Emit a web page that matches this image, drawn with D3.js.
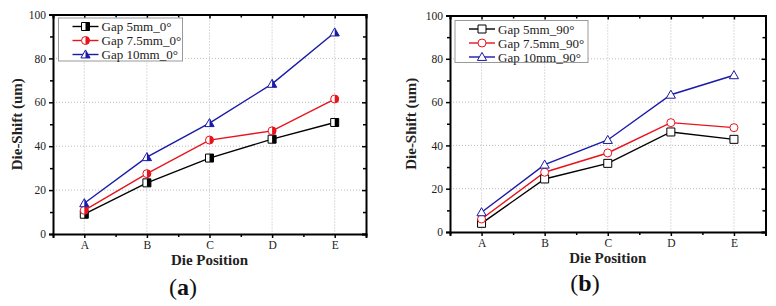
<!DOCTYPE html>
<html>
<head>
<meta charset="utf-8">
<script src="https://cdn.jsdelivr.net/npm/d3@7"></script>
<style>
  body { margin: 0; background: #fff; }
  svg { display: block; }
  svg text { font-family: "Liberation Serif", "Times New Roman", "DejaVu Serif", serif; }
</style>
</head>
<body>
<svg id="chart" width="776" height="306"></svg>
<script>
// data
const positions = ['A', 'B', 'C', 'D', 'E'];
const yTicks = [0, 20, 40, 60, 80, 100];

const gap5_0 = [9.0, 23.3, 34.6, 43.2, 50.8];
const gap75_0 = [10.8, 27.5, 42.8, 47.0, 61.5];
const gap10_0 = [14.0, 35.0, 50.5, 68.4, 91.8];

const gap5_90 = [4.0, 24.5, 31.7, 46.2, 42.8];
const gap75_90 = [6.0, 27.6, 36.5, 50.5, 48.2];
const gap10_90 = [9.1, 31.1, 42.5, 63.4, 72.4];

const names0 = ['Gap 5mm_0°', 'Gap 7.5mm_0°', 'Gap 10mm_0°'];
const names90 = ['Gap 5mm_90°', 'Gap 7.5mm_90°', 'Gap 10mm_90°'];
const colors = ['#000000', '#e8141c', '#1a1aa8'];
const shapes = ['square', 'circle', 'triangle'];

const svg = d3.select('#chart');
let clipN = 0;

// one marker; half=true gives a left-white / right-filled symbol
function marker(g, shape, x, y, color, half, s) {
  let path;
  if (shape === 'square') {
    path = `M${x - s},${y - s}H${x + s}V${y + s}H${x - s}Z`;
  } else if (shape === 'circle') {
    path = `M${x - s},${y}A${s},${s} 0 1,0 ${x + s},${y}A${s},${s} 0 1,0 ${x - s},${y}Z`;
  } else {
    const t = s * 1.15;
    path = `M${x},${y - t}L${x + t},${y + t * 0.75}L${x - t},${y + t * 0.75}Z`;
  }
  g.append('path').attr('d', path).attr('fill', '#fff');
  if (half) {
    const id = 'clip' + (clipN++);
    g.append('clipPath').attr('id', id)
      .append('rect').attr('x', x).attr('y', y - 2 * s).attr('width', 2 * s).attr('height', 4 * s);
    g.append('path').attr('d', path).attr('fill', color).attr('clip-path', `url(#${id})`);
  }
  g.append('path').attr('d', path).attr('fill', 'none').attr('stroke', color).attr('stroke-width', 1);
}

function panel(opts) {
  const { left, right, top, bottom, series, names, half, legend, yTitleX, label, labelX, labelY, xTitleY } = opts;
  const g = svg.append('g');

  const x = d3.scaleLinear().domain([-0.5, 4.5]).range([left, right]);
  const y = d3.scaleLinear().domain([0, 100]).range([bottom, top]);

  // dotted grid
  const grid = g.append('g').attr('stroke', '#bbb').attr('stroke-dasharray', '1,2').attr('stroke-width', 1);
  positions.forEach((p, i) => {
    grid.append('line').attr('x1', x(i)).attr('x2', x(i)).attr('y1', top).attr('y2', bottom);
  });
  yTicks.slice(1, -1).forEach(v => {
    grid.append('line').attr('x1', left).attr('x2', right).attr('y1', y(v)).attr('y2', y(v));
  });

  // axes: outward ticks left/bottom, inward ticks right/top
  const yMinor = d3.range(10, 100, 20);
  g.append('g').attr('transform', `translate(${left},0)`)
    .call(d3.axisLeft(y).tickValues(yTicks).tickSize(4).tickPadding(3))
    .call(a => a.selectAll('text').attr('font-size', 11.5).attr('fill', '#222'));
  g.append('g').attr('transform', `translate(${left},0)`)
    .call(d3.axisLeft(y).tickValues(yMinor).tickSize(3).tickFormat(''))
    .call(a => a.select('.domain').remove());
  g.append('g').attr('transform', `translate(${right},0)`)
    .call(d3.axisLeft(y).tickValues(yTicks).tickSize(4).tickFormat(''));
  g.append('g').attr('transform', `translate(${right},0)`)
    .call(d3.axisLeft(y).tickValues(yMinor).tickSize(3).tickFormat(''))
    .call(a => a.select('.domain').remove());

  const xMinor = [-0.5, 0.5, 1.5, 2.5, 3.5, 4.5];
  g.append('g').attr('transform', `translate(0,${bottom})`)
    .call(d3.axisBottom(x).tickValues(d3.range(5)).tickSize(4).tickPadding(3).tickFormat(i => positions[i]))
    .call(a => a.selectAll('text').attr('font-size', 11.5).attr('fill', '#222'));
  g.append('g').attr('transform', `translate(0,${bottom})`)
    .call(d3.axisBottom(x).tickValues(xMinor).tickSize(3).tickFormat(''))
    .call(a => a.select('.domain').remove());
  g.append('g').attr('transform', `translate(0,${top})`)
    .call(d3.axisBottom(x).tickValues(d3.range(5)).tickSize(4).tickFormat(''));
  g.append('g').attr('transform', `translate(0,${top})`)
    .call(d3.axisBottom(x).tickValues(xMinor).tickSize(3).tickFormat(''))
    .call(a => a.select('.domain').remove());
  g.selectAll('.domain').attr('stroke-width', 2);
  g.selectAll('.tick line').attr('stroke-width', 1.5);
  g.selectAll('.tick text').attr('font-family', null);
  g.selectAll('g').attr('font-family', null);

  // lines and markers
  const line = d3.line().x((d, i) => x(i)).y(d => y(d));
  series.forEach((vals, k) => {
    g.append('path').datum(vals).attr('d', line)
      .attr('fill', 'none').attr('stroke', colors[k]).attr('stroke-width', 1.4);
  });
  series.forEach((vals, k) => {
    vals.forEach((v, i) => marker(g, shapes[k], x(i), y(v), colors[k], half, 4));
  });

  // legend
  g.append('rect').attr('x', legend.x).attr('y', legend.y).attr('width', legend.w).attr('height', legend.h)
    .attr('fill', '#fff').attr('stroke', '#999').attr('stroke-width', 1);
  names.forEach((n, k) => {
    const ly = legend.y + 8.5 + k * 14;
    g.append('line').attr('x1', legend.x + 14).attr('x2', legend.x + 40).attr('y1', ly).attr('y2', ly)
      .attr('stroke', colors[k]).attr('stroke-width', 1.4);
    marker(g, shapes[k], legend.x + 27, ly, colors[k], half, 4);
    g.append('text').attr('x', legend.x + 43).attr('y', ly + 4.5)
      .attr('font-size', 13).attr('fill', '#222').text(n);
  });

  // titles
  g.append('text').attr('transform', `translate(${yTitleX},${(top + bottom) / 2}) rotate(-90)`)
    .attr('text-anchor', 'middle').attr('font-weight', 'bold')
    .attr('font-size', 15).attr('fill', '#222').text('Die-Shift (um)');
  g.append('text').attr('x', x(2)).attr('y', xTitleY)
    .attr('text-anchor', 'middle').attr('font-weight', 'bold')
    .attr('font-size', 15).attr('fill', '#222').text('Die Position');
  const lab = g.append('text').attr('x', labelX).attr('y', labelY)
    .attr('text-anchor', 'middle').attr('font-size', 24).attr('fill', '#111');
  lab.append('tspan').text('(');
  lab.append('tspan').attr('font-weight', 'bold').text(label);
  lab.append('tspan').text(')');
}

panel({
  left: 53, right: 366, top: 14.5, bottom: 234,
  series: [gap5_0, gap75_0, gap10_0], names: names0, half: true,
  legend: { x: 58.5, y: 18, w: 124, h: 43 },
  yTitleX: 22, xTitleY: 265, label: 'a', labelX: 183, labelY: 295
});

panel({
  left: 450, right: 765.5, top: 15.5, bottom: 232,
  series: [gap5_90, gap75_90, gap10_90], names: names90, half: false,
  legend: { x: 455, y: 20.5, w: 133, h: 42 },
  yTitleX: 416, xTitleY: 263, label: 'b', labelX: 585, labelY: 291
});
</script>
</body>
</html>
